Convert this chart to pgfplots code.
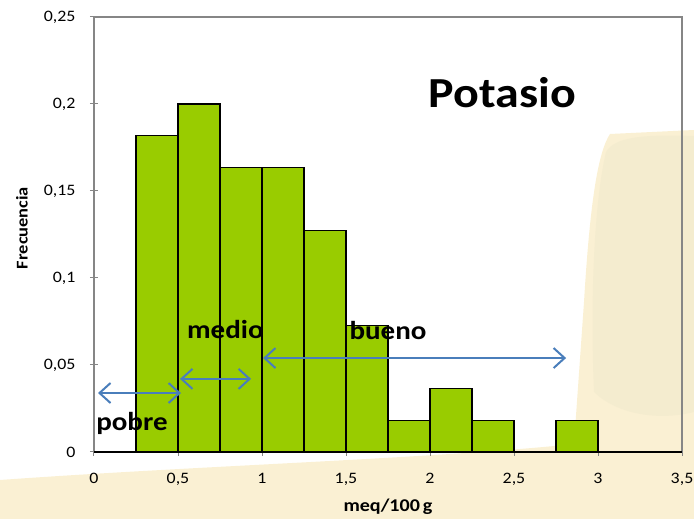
\documentclass[border=0pt]{standalone}
\usepackage{pgfplots}
\pgfplotsset{compat=1.18}
\usepackage{fontspec}
\setmainfont{Carlito}[FakeStretch=1.12]
\usetikzlibrary{arrows.meta}
\definecolor{barg}{HTML}{99CC00}
\definecolor{arrb}{HTML}{4A7EBB}
\definecolor{axg}{HTML}{868686}
\definecolor{bgA}{HTML}{FAF0D3}
\definecolor{bgB}{HTML}{F1EACD}
\begin{document}
\begin{tikzpicture}[x=1bp,y=1bp]
\path[use as bounding box] (-94,-67) rectangle (600,452);
% background photograph (approximate)
\fill[bgA] (-94,-67) -- (-94,-28) .. controls (100,-14) and (350,-6) .. (480,8)
  -- (490,150) .. controls (496,250) and (504,300) .. (516,318) -- (600,322) -- (600,-67) -- cycle;
\fill[bgB, opacity=0.6] (500,60) .. controls (496,150) and (500,250) .. (512,300)
  .. controls (520,314) and (545,318) .. (600,316) -- (600,40) .. controls (560,30) and (520,40) .. (500,60) -- cycle;
\begin{axis}[
  at={(0bp,0bp)}, anchor=south west,
  scale only axis, width=588bp, height=435bp,
  xmin=0, xmax=3.5, ymin=0, ymax=0.25,
  xtick={0,0.5,1,1.5,2,2.5,3,3.5},
  xticklabels={0,{0,5},1,{1,5},2,{2,5},3,{3,5}},
  ytick={0,0.05,0.1,0.15,0.2,0.25},
  yticklabels={0,{0,05},{0,1},{0,15},{0,2},{0,25}},
  tick label style={font=\fontsize{16}{18}\selectfont, black},
  xtick pos=bottom, ytick pos=left,
  tick align=center, major tick length=8bp,
  tick style={axg, line width=1bp},
  axis line style={axg, line width=1.2bp},
  xticklabel style={yshift=-14bp},
  yticklabel style={xshift=-11bp},
  xlabel={\textbf{meq/100\hspace{3pt}g}},
  ylabel={\textbf{Frecuencia}},
  xlabel style={font=\fontsize{18}{20}\selectfont, at={(axis description cs:0.5,-0.1264)}, anchor=center},
  ylabel style={font=\fontsize{16.5}{18}\selectfont, at={(axis description cs:-0.1224,0.515)}, anchor=center},
  clip=false,
]
\addplot[ybar interval, fill=barg, draw=black, line width=1.6bp] coordinates {
  (0.25,0.1818) (0.5,0.2) (0.75,0.1636) (1.0,0.1636) (1.25,0.1273) (1.5,0.0727)
  (1.75,0.0182) (2.0,0.0364) (2.25,0.0182) (2.5,0) (2.75,0.0182) (3.0,0.0182)};
\draw[black, line width=1.4bp] (axis cs:0,0) -- (axis cs:3.5,0);
\draw[arrb, line width=2bp, {Straight Barb[length=11bp,width=20bp]}-{Straight Barb[length=11bp,width=20bp]}]
  (axis cs:0.024,0.0339) -- (axis cs:0.518,0.0339);
\draw[arrb, line width=2bp, {Straight Barb[length=11bp,width=20bp]}-{Straight Barb[length=11bp,width=20bp]}]
  (axis cs:0.512,0.0420) -- (axis cs:0.935,0.0420);
\draw[arrb, line width=2bp, {Straight Barb[length=11bp,width=20bp]}-{Straight Barb[length=11bp,width=20bp]}]
  (axis cs:1.006,0.0540) -- (axis cs:2.81,0.0540);
\node[anchor=base, font=\fontsize{26}{28}\selectfont\bfseries, inner sep=0pt] at (axis cs:0.226,0.0121) {pobre};
\node[anchor=base, font=\fontsize{26}{28}\selectfont\bfseries, inner sep=0pt] at (axis cs:0.782,0.0655) {medio};
\node[anchor=base, font=\fontsize{26}{28}\selectfont\bfseries, inner sep=0pt] at (axis cs:1.75,0.0644) {bueno};
\node[anchor=base, font=\fontsize{43}{46}\selectfont\bfseries, inner sep=0pt] at (axis cs:2.43,0.1982) {Potasio};
\end{axis}
\end{tikzpicture}
\end{document}
